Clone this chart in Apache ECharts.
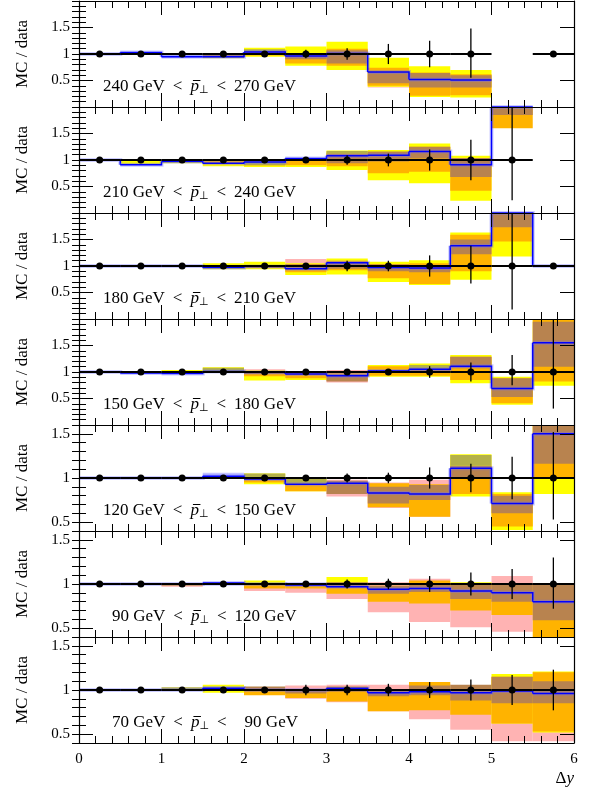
<!DOCTYPE html>
<html><head><meta charset="utf-8">
<script src="https://cdn.jsdelivr.net/npm/echarts@6/dist/echarts.min.js"></script>
<style>html,body{margin:0;padding:0;background:#fff}#c{width:591px;height:796px}</style>
</head><body><div id="c"></div><script>
// ---------- data ----------
const binEdges = [0,0.5,1,1.5,2,2.5,3,3.5,4,4.5,5,5.5,6];
const xTickLabels = ['0','1','2','3','4','5','6'];
const yMajorTicks = [0.5,1,1.5];
const ptLow  = [240,210,180,150,120,90,70];
const ptHigh = [270,240,210,180,150,120,90];
const yMin = [0,0,0,0,0.4,0.4,0.4];
const yMax = [2,2,2,2,1.6,1.6,1.6];

// 240 < pT < 270
const blue_240   = [1.00,1.03,0.95,0.95,1.04,0.96,1.01,0.66,0.52,0.51,null,null];
const purple_240 = [null,[1.00,1.03],[0.93,1.00],null,null,null,null,null,null,null,null,null];
const pink_240   = [null,null,null,null,null,null,null,[0.37,0.62],null,null,null,null];
const yellow_240 = [null,null,null,[0.92,1.00],[0.95,1.12],[0.78,1.14],[0.70,1.23],[0.38,0.93],[0.19,0.77],[0.18,0.70],null,null];
const orange_240 = [null,null,null,null,[0.97,1.08],[0.82,1.00],[0.78,1.10],[0.40,0.74],[0.21,0.65],[0.22,0.62],null,null];
const brown_240  = [null,null,null,[0.93,0.98],[0.98,1.07],[0.90,0.99],[0.82,1.07],[0.45,0.66],[0.37,0.64],[0.37,0.60],null,null];
const olive_240  = [null,null,null,[0.93,0.96],[1.05,1.09],null,null,null,null,null,null,null];
const errUp_240  = [0.01,0.01,0.01,0.02,0.04,0.08,0.11,0.19,0.25,0.48,null,0.01];
const errDn_240  = [0.01,0.01,0.01,0.02,0.04,0.08,0.11,0.19,0.25,0.45,null,0.01];

// 210 < pT < 240
const blue_210   = [1.00,0.91,0.97,0.94,0.96,1.03,1.08,1.09,1.16,0.91,2.50,null];
const purple_210 = [null,[0.90,0.93],null,null,null,null,null,null,null,null,null,null];
const pink_210   = [null,null,null,null,null,null,null,null,null,null,null,null];
const yellow_210 = [null,[0.92,0.99],[0.94,1.00],[0.88,1.00],[0.87,1.00],[0.87,1.04],[0.81,1.18],[0.62,1.19],[0.56,1.31],[0.23,1.08],null,null];
const orange_210 = [null,null,null,[0.92,0.99],[0.90,0.99],[0.90,1.02],[0.88,1.14],[0.75,1.13],[0.78,1.25],[0.42,1.00],[1.60,2.50],null];
const brown_210  = [null,null,null,null,[0.90,0.97],null,[0.94,1.12],[0.97,1.16],[1.03,1.25],[0.68,1.04],[1.85,2.50],null];
const olive_210  = [null,null,null,null,[0.91,0.97],null,[1.12,1.17],null,null,null,null,null];
const errUp_210  = [0.01,0.01,0.01,0.01,0.02,0.04,0.09,0.12,0.20,0.38,1.50,null];
const errDn_210  = [0.01,0.01,0.01,0.01,0.02,0.04,0.09,0.12,0.20,0.38,0.76,null];

// 180 < pT < 210
const blue_180   = [1.00,1.00,1.00,0.97,0.99,0.95,1.06,0.97,0.96,1.38,2.50,1.00];
const purple_180 = [null,null,null,null,null,null,null,null,null,null,null,null];
const pink_180   = [null,null,null,null,null,[0.95,1.13],null,null,null,null,null,null];
const yellow_180 = [null,null,[0.98,1.01],[0.94,1.05],[0.94,1.08],[0.83,1.05],[0.84,1.14],[0.70,1.08],[0.64,1.11],[0.74,1.63],[1.18,2.50],null];
const orange_180 = [null,null,null,[0.96,1.01],[0.96,1.02],[0.88,1.04],[0.92,1.10],[0.77,1.04],[0.66,1.05],[0.90,1.59],[1.46,2.50],null];
const brown_180  = [null,null,null,[0.97,1.00],null,[0.94,1.03],[0.95,1.08],[0.90,1.03],[0.88,1.02],[1.22,1.50],[1.73,2.50],null];
const olive_180  = [null,null,null,null,null,null,null,null,null,null,null,null];
const errUp_180  = [0.01,0.01,0.01,0.01,0.02,0.05,0.10,0.10,0.20,0.38,1.50,0.01];
const errDn_180  = [0.01,0.01,0.01,0.01,0.02,0.05,0.10,0.10,0.20,0.33,0.82,0.01];

// 150 < pT < 180
const blue_150   = [1.00,0.98,0.97,1.01,0.99,0.96,0.93,1.02,1.05,1.11,0.69,1.55];
const purple_150 = [null,[0.97,1.00],null,null,null,null,null,[0.99,1.04],null,null,null,null];
const pink_150   = [null,null,null,null,[0.95,1.05],null,[0.80,1.04],null,null,null,null,null];
const yellow_150 = [null,null,[0.97,1.04],[0.98,1.09],[0.84,1.03],[0.85,1.00],null,[0.91,1.13],[0.91,1.16],[0.79,1.32],[0.38,0.91],[0.74,2.05]];
const orange_150 = [null,null,null,null,[0.92,1.00],[0.88,0.99],[0.84,0.97],[0.93,1.11],[0.93,1.07],[0.85,1.29],[0.41,0.88],[0.82,2.05]];
const brown_150  = [null,null,null,null,null,null,[0.82,0.97],null,[0.99,1.07],[1.07,1.29],[0.53,0.88],[1.10,1.95]];
const olive_150  = [null,null,null,[0.99,1.08],null,null,null,null,[1.07,1.13],null,null,null];
const errUp_150  = [0.01,0.01,0.01,0.01,0.02,0.05,0.05,0.05,0.11,0.18,0.32,1.00];
const errDn_150  = [0.01,0.01,0.01,0.01,0.02,0.05,0.05,0.05,0.11,0.18,0.25,0.69];

// 120 < pT < 150
const blue_120   = [1.00,1.00,1.00,1.02,0.99,0.93,0.94,0.83,0.82,1.11,0.71,1.50];
const purple_120 = [null,null,null,[1.01,1.06],null,null,null,null,null,null,null,null];
const pink_120   = [null,null,null,null,null,null,[0.79,0.98],[0.66,0.95],[0.56,0.98],null,null,null];
const yellow_120 = [null,null,null,null,[0.93,1.05],[0.85,0.99],null,null,null,[0.79,1.27],[0.41,0.84],[0.82,1.65]];
const orange_120 = [null,null,null,null,[0.95,0.99],[0.85,0.94],null,[0.67,0.94],[0.56,0.93],[0.82,1.14],[0.45,0.82],[0.99,1.65]];
const brown_120  = [null,null,[0.99,1.01],null,null,null,[0.82,0.97],[0.71,0.90],[0.75,0.92],[0.99,1.14],[0.60,0.80],[1.16,1.65]];
const olive_120  = [null,null,null,null,[0.99,1.05],[0.94,0.99],null,null,null,[1.14,1.26],null,null];
const errUp_120  = [0.01,0.01,0.01,0.01,0.02,0.03,0.05,0.06,0.12,0.16,0.24,0.52];
const errDn_120  = [0.01,0.01,0.01,0.01,0.02,0.03,0.05,0.06,0.12,0.16,0.24,0.47];

// 90 < pT < 120
const blue_90   = [1.00,1.00,1.00,1.01,1.00,0.99,0.97,0.94,0.95,0.92,0.90,0.80];
const purple_90 = [null,null,null,[0.98,1.02],null,[0.98,1.02],null,null,null,null,null,null];
const pink_90   = [null,null,[0.97,1.01],null,[0.92,0.99],[0.90,0.98],[0.83,0.98],[0.68,1.02],[0.57,1.06],[0.51,0.98],[0.46,1.09],null];
const yellow_90 = [null,null,null,null,[0.98,1.04],null,[0.98,1.08],null,null,[0.98,1.02],null,null];
const orange_90 = [null,null,[0.98,1.01],null,[0.95,1.00],[0.95,0.99],[0.89,0.98],[0.80,0.98],[0.78,1.04],[0.70,1.00],[0.65,1.00],[0.38,1.00]];
const brown_90  = [null,null,null,null,null,null,[0.96,1.02],[0.89,0.98],[0.91,0.99],[0.83,1.00],[0.80,1.00],[0.59,1.00]];
const olive_90  = [null,null,null,null,null,null,null,null,null,null,null,null];
const errUp_90  = [0.01,0.01,0.01,0.01,0.02,0.03,0.05,0.06,0.09,0.13,0.17,0.30];
const errDn_90  = [0.01,0.01,0.01,0.01,0.02,0.03,0.05,0.06,0.09,0.13,0.17,0.28];

// 70 < pT < 90
const blue_70   = [1.00,1.00,1.00,1.02,1.00,1.00,1.02,0.97,0.98,0.97,0.99,0.96];
const purple_70 = [null,[0.99,1.01],null,[1.00,1.04],null,null,null,null,null,null,null,null];
const pink_70   = [null,null,null,null,null,[0.90,1.05],[0.86,1.06],[0.76,1.06],[0.67,1.07],[0.55,1.00],[0.42,1.00],[0.42,0.90]];
const yellow_70 = [null,null,null,[0.97,1.06],null,null,null,null,null,null,[0.62,1.18],[0.52,1.21]];
const orange_70 = [null,null,null,null,[0.94,1.00],[0.91,1.00],[0.87,1.04],[0.76,0.98],[0.77,1.09],[0.72,0.98],[0.62,1.15],[0.53,1.20]];
const brown_70  = [null,null,null,null,[1.00,1.04],[0.96,1.00],[0.98,1.02],[0.93,0.99],[0.94,1.05],[0.88,1.06],[0.85,1.15],[0.85,1.10]];
const olive_70  = [null,null,[1.00,1.03],null,null,null,null,null,null,null,null,null];
const errUp_70  = [0.01,0.01,0.01,0.01,0.03,0.06,0.06,0.07,0.09,0.12,0.17,0.23];
const errDn_70  = [0.01,0.01,0.01,0.01,0.03,0.06,0.06,0.07,0.09,0.12,0.17,0.23];

const panels = [
  {blue:blue_240,purple:purple_240,pink:pink_240,yellow:yellow_240,orange:orange_240,brown:brown_240,olive:olive_240,up:errUp_240,dn:errDn_240},
  {blue:blue_210,purple:purple_210,pink:pink_210,yellow:yellow_210,orange:orange_210,brown:brown_210,olive:olive_210,up:errUp_210,dn:errDn_210},
  {blue:blue_180,purple:purple_180,pink:pink_180,yellow:yellow_180,orange:orange_180,brown:brown_180,olive:olive_180,up:errUp_180,dn:errDn_180},
  {blue:blue_150,purple:purple_150,pink:pink_150,yellow:yellow_150,orange:orange_150,brown:brown_150,olive:olive_150,up:errUp_150,dn:errDn_150},
  {blue:blue_120,purple:purple_120,pink:pink_120,yellow:yellow_120,orange:orange_120,brown:brown_120,olive:olive_120,up:errUp_120,dn:errDn_120},
  {blue:blue_90,purple:purple_90,pink:pink_90,yellow:yellow_90,orange:orange_90,brown:brown_90,olive:olive_90,up:errUp_90,dn:errDn_90},
  {blue:blue_70,purple:purple_70,pink:pink_70,yellow:yellow_70,orange:orange_70,brown:brown_70,olive:olive_70,up:errUp_70,dn:errDn_70}
];

// ---------- styles ----------
const FONT = 'Liberation Serif';
const COL = {pink:'#ffb3b3', yellow:'#ffff00', orange:'#ffb300', brown:'#b8834f', olive:'#b4b049', purple:'rgba(120,120,255,0.45)'};
const GRID_LEFT = 79, GRID_RIGHT = 17, GRID_TOP0 = 1, GRID_H = 106;
const LABEL_FS = 17, OP_PAD = 8;

const measureCtx = document.createElement('canvas').getContext('2d');
function textWidth(str, font){ measureCtx.font = font; return measureCtx.measureText(str).width; }

const grids=[], xAxes=[], yAxes=[], series=[], graphics=[];
const clamp = (v,i) => Math.max(yMin[i], Math.min(yMax[i], v));

panels.forEach((p,i)=>{
  const top = GRID_TOP0 + i*GRID_H;
  grids.push({left:GRID_LEFT, right:GRID_RIGHT, top:top, height:GRID_H});
  const xBase = {gridIndex:i, type:'value', min:0, max:6, interval:1, z:10,
    axisLine:{show:true,onZero:false,lineStyle:{color:'#000',width:1.2}},
    axisTick:{show:true,inside:true,length:14,lineStyle:{color:'#000',width:1}},
    minorTick:{show:true,splitNumber:5,length:7,lineStyle:{color:'#000',width:1}},
    splitLine:{show:false}, minorSplitLine:{show:false}};
  xAxes.push(Object.assign({}, xBase, {position:'bottom',
    axisLabel:{show:i===6, margin:9, fontFamily:FONT, fontSize:15, color:'#000', showMinLabel:true, showMaxLabel:true,
      formatter:v=>xTickLabels[Math.round(v)]}}));
  xAxes.push(Object.assign({}, xBase, {position:'top', axisLabel:{show:false}}));

  const yMajor = {gridIndex:i, type:'value', min:yMin[i], max:yMax[i], z:10,
    axisLine:{show:true,onZero:false,lineStyle:{color:'#000',width:1.2}},
    axisTick:{show:true,inside:true,length:14,customValues:yMajorTicks,lineStyle:{color:'#000',width:1}},
    splitLine:{show:false}};
  yAxes.push(Object.assign({}, yMajor, {position:'left',
    axisLabel:{show:true, customValues:yMajorTicks, margin:9, fontFamily:FONT, fontSize:15, color:'#000'},
    name:'MC / data', nameLocation:'middle', nameGap:48, nameRotate:90,
    nameTextStyle:{fontFamily:FONT, fontSize:17, color:'#000'}}));
  yAxes.push(Object.assign({}, yMajor, {position:'right', axisLabel:{show:false}}));
  const yMinor = {gridIndex:i, type:'value', min:yMin[i], max:yMax[i], interval:0.1, z:10,
    axisLine:{show:false}, axisLabel:{show:false}, splitLine:{show:false},
    axisTick:{show:true,inside:true,length:7,lineStyle:{color:'#000',width:1}}};
  yAxes.push(Object.assign({}, yMinor, {position:'left'}));
  yAxes.push(Object.assign({}, yMinor, {position:'right'}));

  const xi = 2*i, yi = 4*i;
  ['pink','yellow','orange','brown','olive','purple'].forEach((key,k)=>{
    const data=[];
    p[key].forEach((b,bin)=>{ if(b) data.push([binEdges[bin], binEdges[bin+1], b[0], b[1]]); });
    series.push({type:'custom', xAxisIndex:xi, yAxisIndex:yi, z:2+k*0.01, silent:true, animation:false, data:data,
      renderItem:(params, api)=>{
        const lo = clamp(api.value(2), i), hi = clamp(api.value(3), i);
        const a = api.coord([api.value(0), hi]), b = api.coord([api.value(1), lo]);
        return {type:'rect', shape:{x:a[0], y:a[1], width:b[0]-a[0], height:b[1]-a[1]}, style:{fill:COL[key]}};
      }});
  });
  const bdata=[];
  p.blue.forEach((v,bin)=>{
    if(v===null) return;
    const nxt = (bin+1<p.blue.length) ? p.blue[bin+1] : null;
    bdata.push([binEdges[bin], binEdges[bin+1], v, nxt===null? v : nxt, nxt===null?0:1]);
  });
  series.push({type:'custom', xAxisIndex:xi, yAxisIndex:yi, z:3, silent:true, animation:false, data:bdata,
    renderItem:(params, api)=>{
      const v = clamp(api.value(2), i), vn = clamp(api.value(3), i);
      const pts = [api.coord([api.value(0), v]), api.coord([api.value(1), v])];
      if (api.value(4) === 1) pts.push(api.coord([api.value(1), vn]));
      return {type:'group', children:[
        {type:'polyline', shape:{points:pts}, style:{stroke:'rgba(110,110,255,0.35)', lineWidth:4, fill:null}},
        {type:'polyline', shape:{points:pts}, style:{stroke:'#0000ff', lineWidth:1.5, fill:null}}
      ]};
    }});
  const ddata=[];
  p.up.forEach((u,bin)=>{
    if(u===null) return;
    const xc = (binEdges[bin]+binEdges[bin+1])/2;
    ddata.push([xc, binEdges[bin], binEdges[bin+1], 1 - p.dn[bin], 1 + u]);
  });
  series.push({type:'custom', xAxisIndex:xi, yAxisIndex:yi, z:4, silent:true, animation:false, data:ddata,
    renderItem:(params, api)=>{
      const xc=api.value(0);
      const c = api.coord([xc,1]);
      const l = api.coord([api.value(1),1]), r = api.coord([api.value(2),1]);
      const lo = api.coord([xc, clamp(api.value(3),i)]), hi = api.coord([xc, clamp(api.value(4),i)]);
      return {type:'group', children:[
        {type:'line', shape:{x1:l[0],y1:l[1],x2:r[0],y2:r[1]}, style:{stroke:'#000',lineWidth:1.8}},
        {type:'line', shape:{x1:lo[0],y1:lo[1],x2:hi[0],y2:hi[1]}, style:{stroke:'#000',lineWidth:1.3}},
        {type:'circle', shape:{cx:c[0],cy:c[1],r:3.5}, style:{fill:'#000'}}
      ]};
    }});

  // panel label with p-bar
  const padLow = ptLow[i] < 100 ? 9 : 0, padHigh = ptHigh[i] < 100 ? 10 : 0;
  const lx = 103, ly = top + 86;
  graphics.push({type:'text', x:lx, y:ly, z:20, silent:true,
    style:{text:'{a|'+ptLow[i]+' GeV}{op|<}{it|p}{sub|\u22A5}{op|<}{b|'+ptHigh[i]+' GeV}',
      verticalAlign:'middle',
      rich:{
        a:{fontFamily:FONT,fontSize:LABEL_FS,color:'#000',padding:[0,0,0,padLow]},
        b:{fontFamily:FONT,fontSize:LABEL_FS,color:'#000',padding:[0,0,0,padHigh]},
        op:{fontFamily:FONT,fontSize:LABEL_FS,color:'#000',padding:[0,OP_PAD,0,OP_PAD]},
        it:{fontFamily:FONT,fontSize:LABEL_FS,fontStyle:'italic',color:'#000'},
        sub:{fontFamily:'DejaVu Sans',fontSize:11,color:'#000',verticalAlign:'bottom',lineHeight:12}
      }}});
  const regFont = LABEL_FS+'px "'+FONT+'"', itFont = 'italic '+LABEL_FS+'px "'+FONT+'"';
  const px = lx + padLow + textWidth(ptLow[i]+' GeV', regFont) + 2*OP_PAD + textWidth('<', regFont);
  const pw = textWidth('p', itFont);
  graphics.push({type:'line', z:20, silent:true,
    shape:{x1:px+2.5, y1:ly-6.5, x2:px+pw+1.5, y2:ly-6.5}, style:{stroke:'#000', lineWidth:1}});
});

graphics.push({type:'text', x:574, y:779, z:20, silent:true,
  style:{text:'{d|\u0394}{y|y}', align:'right', verticalAlign:'middle',
    rich:{d:{fontFamily:FONT,fontSize:17,color:'#000'}, y:{fontFamily:FONT,fontSize:17,fontStyle:'italic',color:'#000'}}}});

const chart = echarts.init(document.getElementById('c'), null, {renderer:'canvas'});
chart.setOption({animation:false, backgroundColor:'#fff', grid:grids, xAxis:xAxes, yAxis:yAxes, series:series, graphic:graphics});
</script></body></html>
